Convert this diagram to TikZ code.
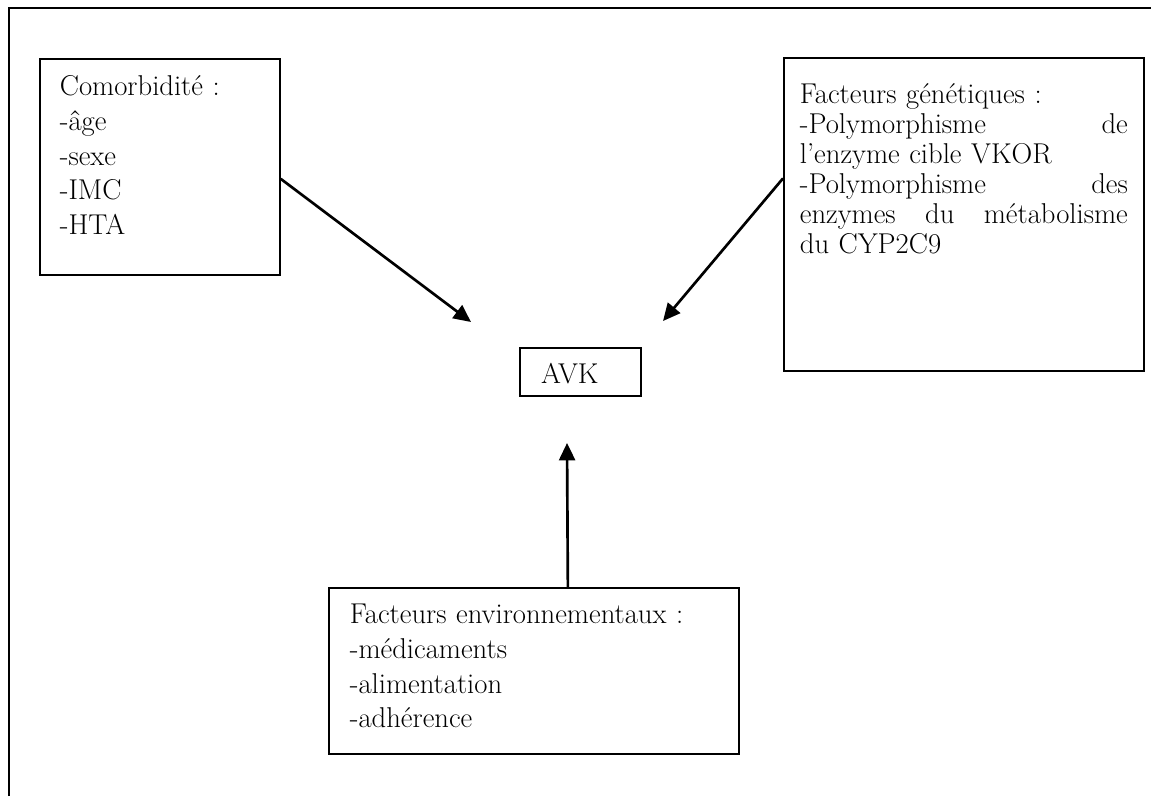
\documentclass[tikz,border=0pt]{standalone}
\usepackage{fontspec}
\usetikzlibrary{arrows.meta}

\begin{document}
\begin{tikzpicture}[x=0.75pt,y=-0.75pt,
  box/.style={draw,line width=1.3pt,anchor=north west,align=left,inner ysep=0pt,font=\fontsize{21.5}{26}\selectfont},
  fleche/.style={line width=2pt,-{Triangle[length=13pt,width=12pt]}}]
\useasboundingbox (0,0) rectangle (1151,796);
\draw [line width=1.3pt] (9,796) -- (9,8) -- (1151,8);
\node [box,inner xsep=15pt,text width=150pt,text height=27.75pt,text depth=134.25pt] (comorb) at (39,58)
  {Comorbidité :\\-âge\\-sexe\\-IMC\\-HTA};
\node [box,inner xsep=12pt,text width=246pt,text height=34.5pt,text depth=200.25pt,font=\fontsize{21.5}{22.5}\selectfont] (genet) at (783,57)
  {Facteurs génétiques :\\-Polymorphisme\hfill de\\l'enzyme cible VKOR\\-Polymorphisme\hfill des\\enzymes\hfill du\hfill métabolisme\\du CYP2C9};
\node [box,inner xsep=16pt,text width=58.75pt,text height=27pt,text depth=9pt] (avk) at (519,347) {AVK};
\node [box,inner xsep=15.75pt,text width=276pt,text height=27pt,text depth=97.5pt] (envir) at (328,587)
  {Facteurs environnementaux :\\-médicaments\\-alimentation\\-adhérence};
\coordinate (p1) at (471,322);
\coordinate (p2) at (663,321);
\coordinate (p3) at (567,443);
\draw [fleche] ([yshift=-9pt]comorb.east) -- (p1);
\draw [fleche] ([yshift=27pt]genet.west) -- (p2);
\draw [fleche] ([xshift=25.5pt]envir.north) -- (p3);
\end{tikzpicture}
\end{document}
